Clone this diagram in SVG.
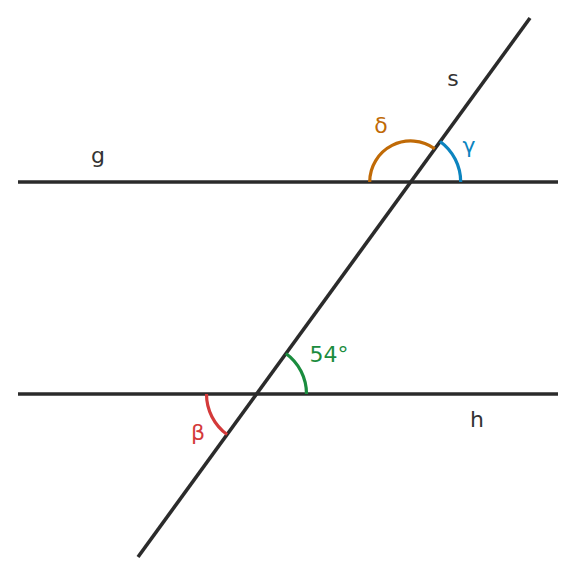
<svg xmlns="http://www.w3.org/2000/svg" width="576" height="576" viewBox="0 0 576 576">
<style>
.ln{stroke:#2b2b2b;stroke-width:3.6;fill:none}
.arc{fill:none;stroke-width:3.2}
text{font-family:"DejaVu Sans",sans-serif;font-size:22px;text-anchor:middle;dominant-baseline:central}
.lbl{fill:#333333}
</style>
<rect width="576" height="576" fill="#ffffff"/>
<g id="connectors">
<line id="g" class="ln" x1="18" y1="182" x2="558" y2="182"/>
<line id="h" class="ln" x1="18" y1="394" x2="558" y2="394"/>
<line id="s" class="ln" x1="138" y1="557" x2="530" y2="18"/>
</g>
<g id="angle-delta">
<path class="arc" stroke="#c06a06" d="M369.7,182 A41,41 0 0 1 434.8,148.8"/>
<text x="381" y="125" fill="#c06a06">δ</text>
</g>
<g id="angle-gamma">
<path class="arc" stroke="#0c84bf" d="M460.7,182 A50,50 0 0 0 440.1,141.5"/>
<text x="469" y="145" fill="#0c84bf">γ</text>
</g>
<g id="angle-54">
<path class="arc" stroke="#1a8c3e" d="M306.5,394 A50,50 0 0 0 285.9,353.5"/>
<text x="329" y="354" fill="#1a8c3e">54°</text>
</g>
<g id="angle-beta">
<path class="arc" stroke="#d43a3a" d="M206.5,394 A50,50 0 0 0 227.1,434.5"/>
<text x="198" y="432" fill="#d43a3a">β</text>
</g>
<g id="label-g"><text class="lbl" x="98" y="155">g</text></g>
<g id="label-h"><text class="lbl" x="477" y="419">h</text></g>
<g id="label-s"><text class="lbl" x="453" y="78">s</text></g>
</svg>
